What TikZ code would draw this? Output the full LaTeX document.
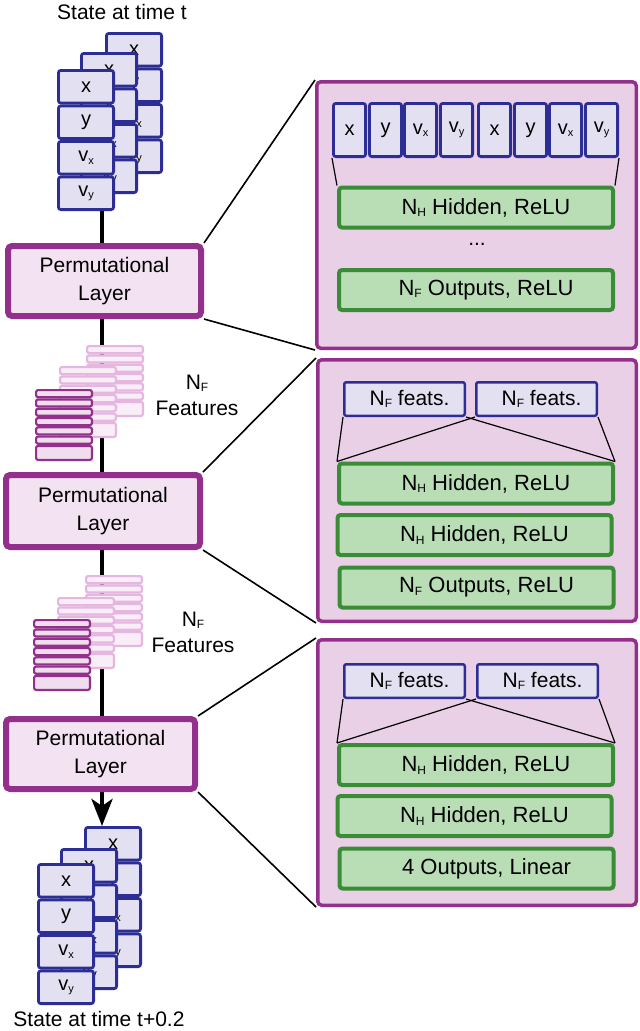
\documentclass[tikz,border=0pt]{standalone}
\usepackage{fontspec}
\setmainfont{Liberation Sans}
\usetikzlibrary{arrows.meta}
\definecolor{pur}{RGB}{146,48,140}
\definecolor{layerfill}{RGB}{243,226,241}
\definecolor{panelfill}{RGB}{233,208,231}
\definecolor{blu}{RGB}{45,45,150}
\definecolor{cellfill}{RGB}{227,225,241}
\definecolor{grn}{RGB}{58,140,55}
\definecolor{grnfill}{RGB}{185,222,182}
\definecolor{lpur}{RGB}{228,182,224}
\definecolor{lfill}{RGB}{249,237,248}
\definecolor{ffill}{RGB}{240,222,239}
\newcommand{\sbs}[1]{\raisebox{-2.5pt}{\fontsize{12}{12}\selectfont #1}}
\newcommand{\sbsm}[1]{\raisebox{-2.5pt}{\fontsize{11}{11}\selectfont #1}}
\newcommand{\statestack}[3]{%
  \node[cell, anchor=north west] (#1a) at (#2,#3) {x};
  \node[cell, anchor=north west] (#1b) at (#1a.south west) {y};
  \node[cell, anchor=north west] (#1c) at (#1b.south west) {v\sbsm{x}};
  \node[cell, anchor=north west] (#1d) at (#1c.south west) {v\sbsm{y}};
}
\newcommand{\featstack}[4]{%
  \foreach \i in {0,...,5}{
    \draw[draw=#3, fill=#4, line width=2.2pt, rounded corners=2pt]
      ({#1+1.1},{#2+1.1+\i*9.3}) rectangle ({#1+56.9},{#2+9.3*(\i+1)-1.1});
  }
  \draw[draw=#3, fill=#4, line width=2.2pt, rounded corners=2pt]
      ({#1+1.1},{#2+1.1+55.8}) rectangle ({#1+56.9},{#2+72-1.1});
}
\begin{document}
\begin{tikzpicture}[x=1pt, y=-1pt,
  cell/.style={draw=blu, fill=cellfill, line width=2.8pt, rounded corners=2.5pt,
    minimum width=55.2pt, minimum height=32.7pt, inner sep=0pt,
    font=\fontsize{20}{20}\selectfont},
  pcell/.style={draw=blu, fill=cellfill, line width=2.8pt, rounded corners=2.5pt,
    minimum width=32.2pt, minimum height=53.2pt, inner sep=0pt,
    anchor=north west, font=\fontsize{20}{20}\selectfont},
  layer/.style={draw=pur, fill=layerfill, line width=6pt, rounded corners=4pt,
    inner sep=0pt, align=center, font=\fontsize{21}{28}\selectfont},
  panel/.style={draw=pur, fill=panelfill, line width=3.5pt, rounded corners=4pt,
    inner sep=0pt},
  gbox/.style={draw=grn, fill=grnfill, line width=4pt, rounded corners=3pt,
    minimum width=274pt, minimum height=40pt, inner sep=0pt,
    font=\fontsize{22}{22}\selectfont},
  feat/.style={draw=blu, fill=cellfill, line width=2.5pt, rounded corners=2pt,
    minimum width=120.5pt, minimum height=33.5pt, inner sep=0pt, anchor=north west,
    font=\fontsize{21}{21}\selectfont},
  lbl/.style={font=\fontsize{21}{26}\selectfont, align=center, inner sep=0pt},
  conn/.style={line width=1.6pt, black}
]
\useasboundingbox[fill=white] (0,0) rectangle (640,1031);

% main vertical flow line
\coordinate (ltop) at (102,180);
\coordinate (ltip) at (102,826);
\draw[line width=4.5pt, -{Stealth[length=27pt,width=21pt,inset=7pt]}] (ltop) -- (ltip);

% titles
\node[lbl] (ttop) at (122,12) {State at time t};
\node[lbl] (tbot) at (99,1019) {State at time t+0.2};

% input state stack
\statestack{sA}{105}{32}
\statestack{sB}{80}{52}
\statestack{sC}{57}{69}

% feature stacks
\featstack{86}{345}{lpur}{lfill}
\featstack{59}{366}{lpur}{lfill}
\featstack{35}{389}{pur}{ffill}
\featstack{85}{575}{lpur}{lfill}
\featstack{57}{597}{lpur}{lfill}
\featstack{33}{619}{pur}{ffill}

\node[lbl] (nfa) at (197,395) {N\sbs{F}\\Features};
\node[lbl] (nfb) at (193,632) {N\sbs{F}\\Features};

% output state stack
\statestack{oA}{84}{826}
\statestack{oB}{60}{848}
\statestack{oC}{37}{863}

% permutational layers
\node[layer, minimum width=193pt, minimum height=70pt] (L1) at (104.5,281) {Permutational\\Layer};
\node[layer, minimum width=194pt, minimum height=72pt] (L2) at (103,511) {Permutational\\Layer};
\node[layer, minimum width=189pt, minimum height=70pt] (L3) at (100.5,754) {Permutational\\Layer};

% panels
\node[panel, minimum width=319.5pt, minimum height=266.5pt] (P1) at (476.5,215) {};
\node[panel, minimum width=318.5pt, minimum height=261.5pt] (P2) at (477,490.5) {};
\node[panel, minimum width=318.5pt, minimum height=265.5pt] (P3) at (477,772.5) {};

% zoom connectors
\draw[conn] (L1.north east) -- (P1.north west);
\draw[conn] (L1.south east) -- (P1.south west);
\draw[conn] (L2.north east) -- (P2.north west);
\draw[conn] (L2.south east) -- (P2.south west);
\draw[conn] (L3.north east) -- (P3.north west);
\draw[conn] (L3.south east) -- (P3.south west);

% panel 1
\node[pcell] (c1) at (332,102) {x};
\node[pcell] (c2) at (368,102) {y};
\node[pcell] (c3) at (403,102) {v\sbsm{x}};
\node[pcell] (c4) at (439,102) {v\sbsm{y}};
\node[pcell] (c5) at (477,102) {x};
\node[pcell] (c6) at (513,102) {y};
\node[pcell] (c7) at (548,102) {v\sbsm{x}};
\node[pcell] (c8) at (584,102) {v\sbsm{y}};
\node[gbox] (g11) at (476,207.5) {\hspace*{20pt}N\sbs{H} Hidden, ReLU};
\node[lbl] (dots) at (477,244) {...};
\node[gbox] (g12) at (476,290) {\hspace*{20pt}N\sbs{F} Outputs, ReLU};
\draw[conn, line width=1.2pt] (c1.south west) -- (g11.north west);
\draw[conn, line width=1.2pt] (c8.south east) -- (g11.north east);

% panel 2
\node[feat] (f21) at (343,381) {\hspace*{10pt}N\sbs{F} feats.};
\node[feat] (f22) at (475,381) {\hspace*{10pt}N\sbs{F} feats.};
\node[gbox] (g21) at (476,483.5) {\hspace*{20pt}N\sbs{H} Hidden, ReLU};
\node[gbox] (g22) at (474.5,535) {\hspace*{20pt}N\sbs{H} Hidden, ReLU};
\node[gbox] (g23) at (476.5,587.5) {\hspace*{20pt}N\sbs{F} Outputs, ReLU};
\draw[conn, line width=1.2pt] (f21.south west) -- (g21.north west);
\draw[conn, line width=1.2pt] (f21.south east) -- (g21.north east);
\draw[conn, line width=1.2pt] (f22.south west) -- (g21.north west);
\draw[conn, line width=1.2pt] (f22.south east) -- (g21.north east);

% panel 3
\node[feat] (f31) at (343,663) {\hspace*{10pt}N\sbs{F} feats.};
\node[feat] (f32) at (476,663) {\hspace*{10pt}N\sbs{F} feats.};
\node[gbox] (g31) at (476,765) {\hspace*{20pt}N\sbs{H} Hidden, ReLU};
\node[gbox] (g32) at (474.5,816) {\hspace*{20pt}N\sbs{H} Hidden, ReLU};
\node[gbox] (g33) at (476.5,868.5) {\hspace*{20pt}4 Outputs, Linear};
\draw[conn, line width=1.2pt] (f31.south west) -- (g31.north west);
\draw[conn, line width=1.2pt] (f31.south east) -- (g31.north east);
\draw[conn, line width=1.2pt] (f32.south west) -- (g31.north west);
\draw[conn, line width=1.2pt] (f32.south east) -- (g31.north east);
\end{tikzpicture}
\end{document}
